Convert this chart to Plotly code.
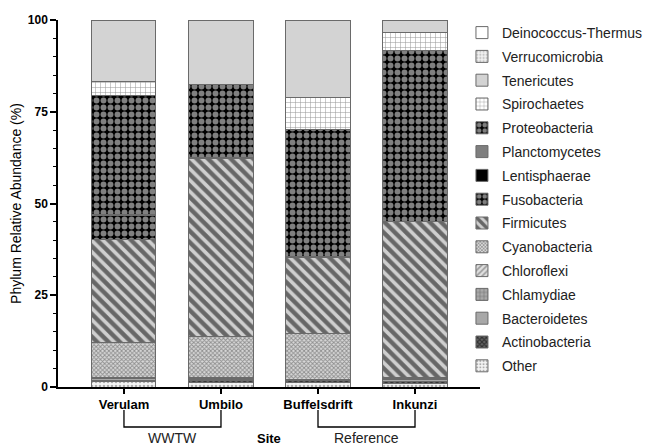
import plotly.graph_objects as go

sites = ["Verulam", "Umbilo", "Buffelsdrift", "Inkunzi"]

# stacked bottom -> top
phyla = ["Other", "Actinobacteria", "Bacteroidetes", "Chlamydiae", "Chloroflexi",
         "Cyanobacteria", "Firmicutes", "Fusobacteria", "Lentisphaerae",
         "Planctomycetes", "Proteobacteria", "Spirochaetes", "Tenericutes",
         "Verrucomicrobia", "Deinococcus-Thermus"]

other = [1.4, 1.3, 1.2, 1.0]
actinobacteria = [0.3, 0.4, 0.5, 0.5]
bacteroidetes = [0.6, 0.4, 0.2, 0.6]
chlamydiae = [0.1, 0.3, 0.05, 0.1]
chloroflexi = [0.1, 0.2, 0.05, 0.2]
cyanobacteria = [9.6, 11.1, 12.6, 0.1]
firmicutes = [28.1, 48.6, 20.7, 42.5]
fusobacteria = [6.6, 0.1, 0.2, 0.1]
lentisphaerae = [0.05, 0.05, 0.05, 0.05]
planctomycetes = [0.05, 0.05, 0.05, 0.05]
proteobacteria = [32.4, 19.8, 34.7, 46.4]
spirochaetes = [3.9, 0.1, 8.6, 4.9]
tenericutes = [16.7, 17.5, 21.0, 3.4]
verrucomicrobia = [0.05, 0.05, 0.05, 0.05]
deinococcus = [0.05, 0.05, 0.05, 0.05]

values = [other, actinobacteria, bacteroidetes, chlamydiae, chloroflexi,
          cyanobacteria, firmicutes, fusobacteria, lentisphaerae,
          planctomycetes, proteobacteria, spirochaetes, tenericutes,
          verrucomicrobia, deinococcus]

styles = {
    "Other": dict(color="white", pattern=dict(shape=".", fgcolor="#666", bgcolor="#f4f4f4", size=4, solidity=0.35)),
    "Actinobacteria": dict(color="black", pattern=dict(shape="x", fgcolor="black", bgcolor="#666", size=4, solidity=0.6)),
    "Bacteroidetes": dict(color="#a8a8a8", pattern=dict(shape="")),
    "Chlamydiae": dict(color="#999", pattern=dict(shape="+", fgcolor="#444", bgcolor="#aaa", size=5, solidity=0.3)),
    "Chloroflexi": dict(color="#ccc", pattern=dict(shape="/", fgcolor="#555", bgcolor="#e0e0e0", size=5, solidity=0.4)),
    "Cyanobacteria": dict(color="#bbb", pattern=dict(shape="x", fgcolor="#444", bgcolor="#d8d8d8", size=3, solidity=0.5)),
    "Firmicutes": dict(color="#ccc", pattern=dict(shape="\\", fgcolor="black", bgcolor="#cfcfcf", size=8, solidity=0.55)),
    "Fusobacteria": dict(color="black", pattern=dict(shape=".", fgcolor="white", bgcolor="black", size=7, solidity=0.55)),
    "Lentisphaerae": dict(color="black", pattern=dict(shape="")),
    "Planctomycetes": dict(color="#7f7f7f", pattern=dict(shape="")),
    "Proteobacteria": dict(color="black", pattern=dict(shape=".", fgcolor="white", bgcolor="black", size=7, solidity=0.55)),
    "Spirochaetes": dict(color="white", pattern=dict(shape="+", fgcolor="#333", bgcolor="white", size=5, solidity=0.2)),
    "Tenericutes": dict(color="#d3d3d3", pattern=dict(shape="")),
    "Verrucomicrobia": dict(color="#e6e6e6", pattern=dict(shape=".", fgcolor="#999", bgcolor="#f2f2f2", size=4, solidity=0.4)),
    "Deinococcus-Thermus": dict(color="white", pattern=dict(shape="")),
}

fig = go.Figure()
for i, (name, vals) in enumerate(zip(phyla, values)):
    st = styles[name]
    fig.add_trace(go.Bar(
        x=list(range(len(sites))), y=vals, name=name, legendgroup=name,
        legendrank=1000 - i,
        width=0.66,
        marker=dict(color=st["color"], pattern=st["pattern"],
                    line=dict(color="#6a6a6a", width=1)),
    ))

# paper: fig y 4..434 (430 px); plot area fig y 12..379
PH = 430.0
def py(fig_y):
    return (434 - fig_y) / PH

fig.update_layout(
    barmode="stack",
    width=644, height=438,
    margin=dict(l=50, r=6, t=4, b=4, autoexpand=False),
    paper_bgcolor="white", plot_bgcolor="white",
    font=dict(family="Liberation Sans, Arial, sans-serif", color="black"),
    legend=dict(traceorder="grouped", x=0.687, xanchor="left", y=py(9), yanchor="top",
                font=dict(size=14, color="#222"), tracegroupgap=2.6,
                bgcolor="rgba(0,0,0,0)", itemwidth=30),
    showlegend=True,
)

fig.update_xaxes(
    domain=[0, 0.7177],
    range=[-0.68, 3.67], tickmode="array", tickvals=list(range(len(sites))),
    ticktext=["<b>%s</b>" % s for s in sites], tickfont=dict(size=13),
    showline=True, linecolor="black", linewidth=1.5,
    ticks="outside", ticklen=5, tickwidth=1.5, tickcolor="black",
    showgrid=False, zeroline=False,
)
fig.update_yaxes(
    domain=[py(379), py(12)],
    range=[0, 100], tickmode="array", tickvals=[0, 25, 50, 75, 100],
    ticktext=["<b>0</b>", "<b>25</b>", "<b>50</b>", "<b>75</b>", "<b>100</b>"],
    tickfont=dict(size=12),
    showline=True, linecolor="black", linewidth=1.5,
    ticks="outside", ticklen=6, tickwidth=1.5, tickcolor="black",
    minor=dict(tickvals=[v for v in range(5, 100, 5) if v % 25 != 0],
               ticks="outside", ticklen=3, tickwidth=1.2, tickcolor="black"),
    showgrid=False, zeroline=False,
    title=dict(text="Phylum Relative Abundance (%)", font=dict(size=14), standoff=3),
)

# group brackets below the axis
groups = [("WWTW", 0, 1), ("Reference", 2, 3)]
y_top, y_bot, y_txt = py(402), py(419), py(430)
for label, a, b in groups:
    fig.add_shape(type="path", xref="x", yref="paper",
                  path=f"M {a} {y_top} L {a} {y_bot} L {b} {y_bot} L {b} {y_top}",
                  line=dict(color="black", width=1.3))
    fig.add_annotation(x=(a + b) / 2, y=y_txt, xref="x", yref="paper",
                       text=label, showarrow=False, font=dict(size=14, color="#222"),
                       yanchor="middle")
fig.add_annotation(x=1.5, y=y_txt, xref="x", yref="paper", text="<b>Site</b>",
                   showarrow=False, font=dict(size=13), yanchor="middle")

fig.write_html("out.html")
